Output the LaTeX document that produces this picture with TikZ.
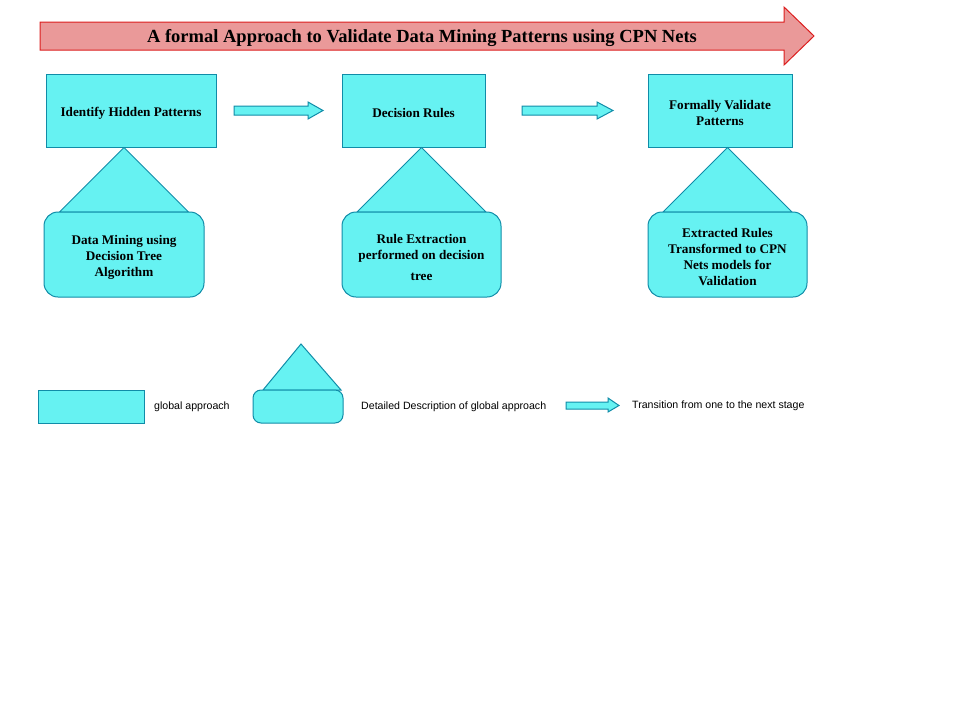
\documentclass[tikz,border=0pt]{standalone}
\usepackage{fontspec}
\setmainfont{Liberation Serif}
\newfontfamily\legendfont{Liberation Sans}
\definecolor{cyanfill}{RGB}{102,242,242}
\definecolor{cyanline}{RGB}{16,140,168}
\definecolor{titlefill}{RGB}{234,153,153}
\definecolor{titleline}{RGB}{220,30,30}
\tikzset{
  box/.style={draw=cyanline, fill=cyanfill, line width=1pt, inner sep=0pt},
  rbox/.style={box, rounded corners=14pt},
  boxtext/.style={align=center, font=\bfseries\fontsize{13.2}{16}\selectfont, inner sep=0pt, yshift=-2.5pt},
  tri/.style={draw=cyanline, fill=cyanfill, line width=1pt, line join=miter},
  blockarrow/.style={draw=cyanline, fill=cyanfill, line width=1pt},
  legtext/.style={font=\legendfont\fontsize{10.6}{12}\selectfont, anchor=west, inner sep=0pt}
}
\begin{document}
\begin{tikzpicture}[x=1pt,y=-1pt]
\useasboundingbox (0,0) rectangle (960,720);
% title arrow
\draw[draw=titleline, fill=titlefill, line width=1pt]
  (40,22) -- (784,22) -- (784,7) -- (814,36) -- (784,65) -- (784,50) -- (40,50) -- cycle;
\node[font=\bfseries\fontsize{18.5}{22}\selectfont] (title) at (422,38.5)
  {A formal Approach to Validate Data Mining Patterns using CPN Nets};
% main boxes
\node[box, minimum width=170, minimum height=73, label={[boxtext]center:{Identify Hidden Patterns}}] (b1) at (131,110.5) {};
\node[box, minimum width=143, minimum height=73, label={[boxtext]center:{Decision Rules}}] (b2) at (413.5,110.5) {};
\node[box, minimum width=144, minimum height=73, label={[boxtext]center:{Formally Validate\\Patterns}}] (b3) at (720,110.5) {};
% triangles (drawn before the rounded boxes)
\coordinate (r1c) at (124,212);
\coordinate (r2c) at (421.5,212);
\coordinate (r3c) at (727.5,212);
\draw[tri] (r1c |- b1.south) -- ([xshift=-64.5]r1c) -- ([xshift=64.5]r1c) -- cycle;
\draw[tri] (r2c |- b2.south) -- ([xshift=-64.5]r2c) -- ([xshift=64.5]r2c) -- cycle;
\draw[tri] (r3c |- b3.south) -- ([xshift=-64.5]r3c) -- ([xshift=64.5]r3c) -- cycle;
% rounded boxes
\node[rbox, minimum width=160, minimum height=85, label={[boxtext]center:{Data Mining using\\Decision Tree\\Algorithm}}] (r1) at (124,254.5) {};
\node[rbox, minimum width=159, minimum height=85, label={[boxtext]center:{Rule Extraction\\performed on decision\\[5pt]tree}}] (r2) at (421.5,254.5) {};
\node[rbox, minimum width=159, minimum height=85, label={[boxtext]center:{Extracted Rules\\Transformed to CPN\\Nets models for\\Validation}}] (r3) at (727.5,254.5) {};
% transition arrows
\draw[blockarrow] (234,106) -- (308,106) -- (308,102) -- (323,110.5) -- (308,119) -- (308,115) -- (234,115) -- cycle;
\draw[blockarrow] (522,106) -- (597,106) -- (597,102) -- (613,110.5) -- (597,119) -- (597,115) -- (522,115) -- cycle;
% legend
\node[box, minimum width=106, minimum height=33] (l1) at (91,406.5) {};
\node[legtext] (l1t) at (154,407) {global approach};
\draw[tri] (301,344) -- (263,390) -- (341,390) -- cycle;
\node[box, rounded corners=8pt, minimum width=90, minimum height=33] (l2) at (298,406.5) {};
\node[legtext] (l2t) at (361,407) {Detailed Description of global approach};
\draw[blockarrow] (566,402) -- (608,402) -- (608,398) -- (619,405.5) -- (608,412) -- (608,409) -- (566,409) -- cycle;
\node[legtext] (l3t) at (632,406) {Transition from one to the next stage};
\end{tikzpicture}
\end{document}
